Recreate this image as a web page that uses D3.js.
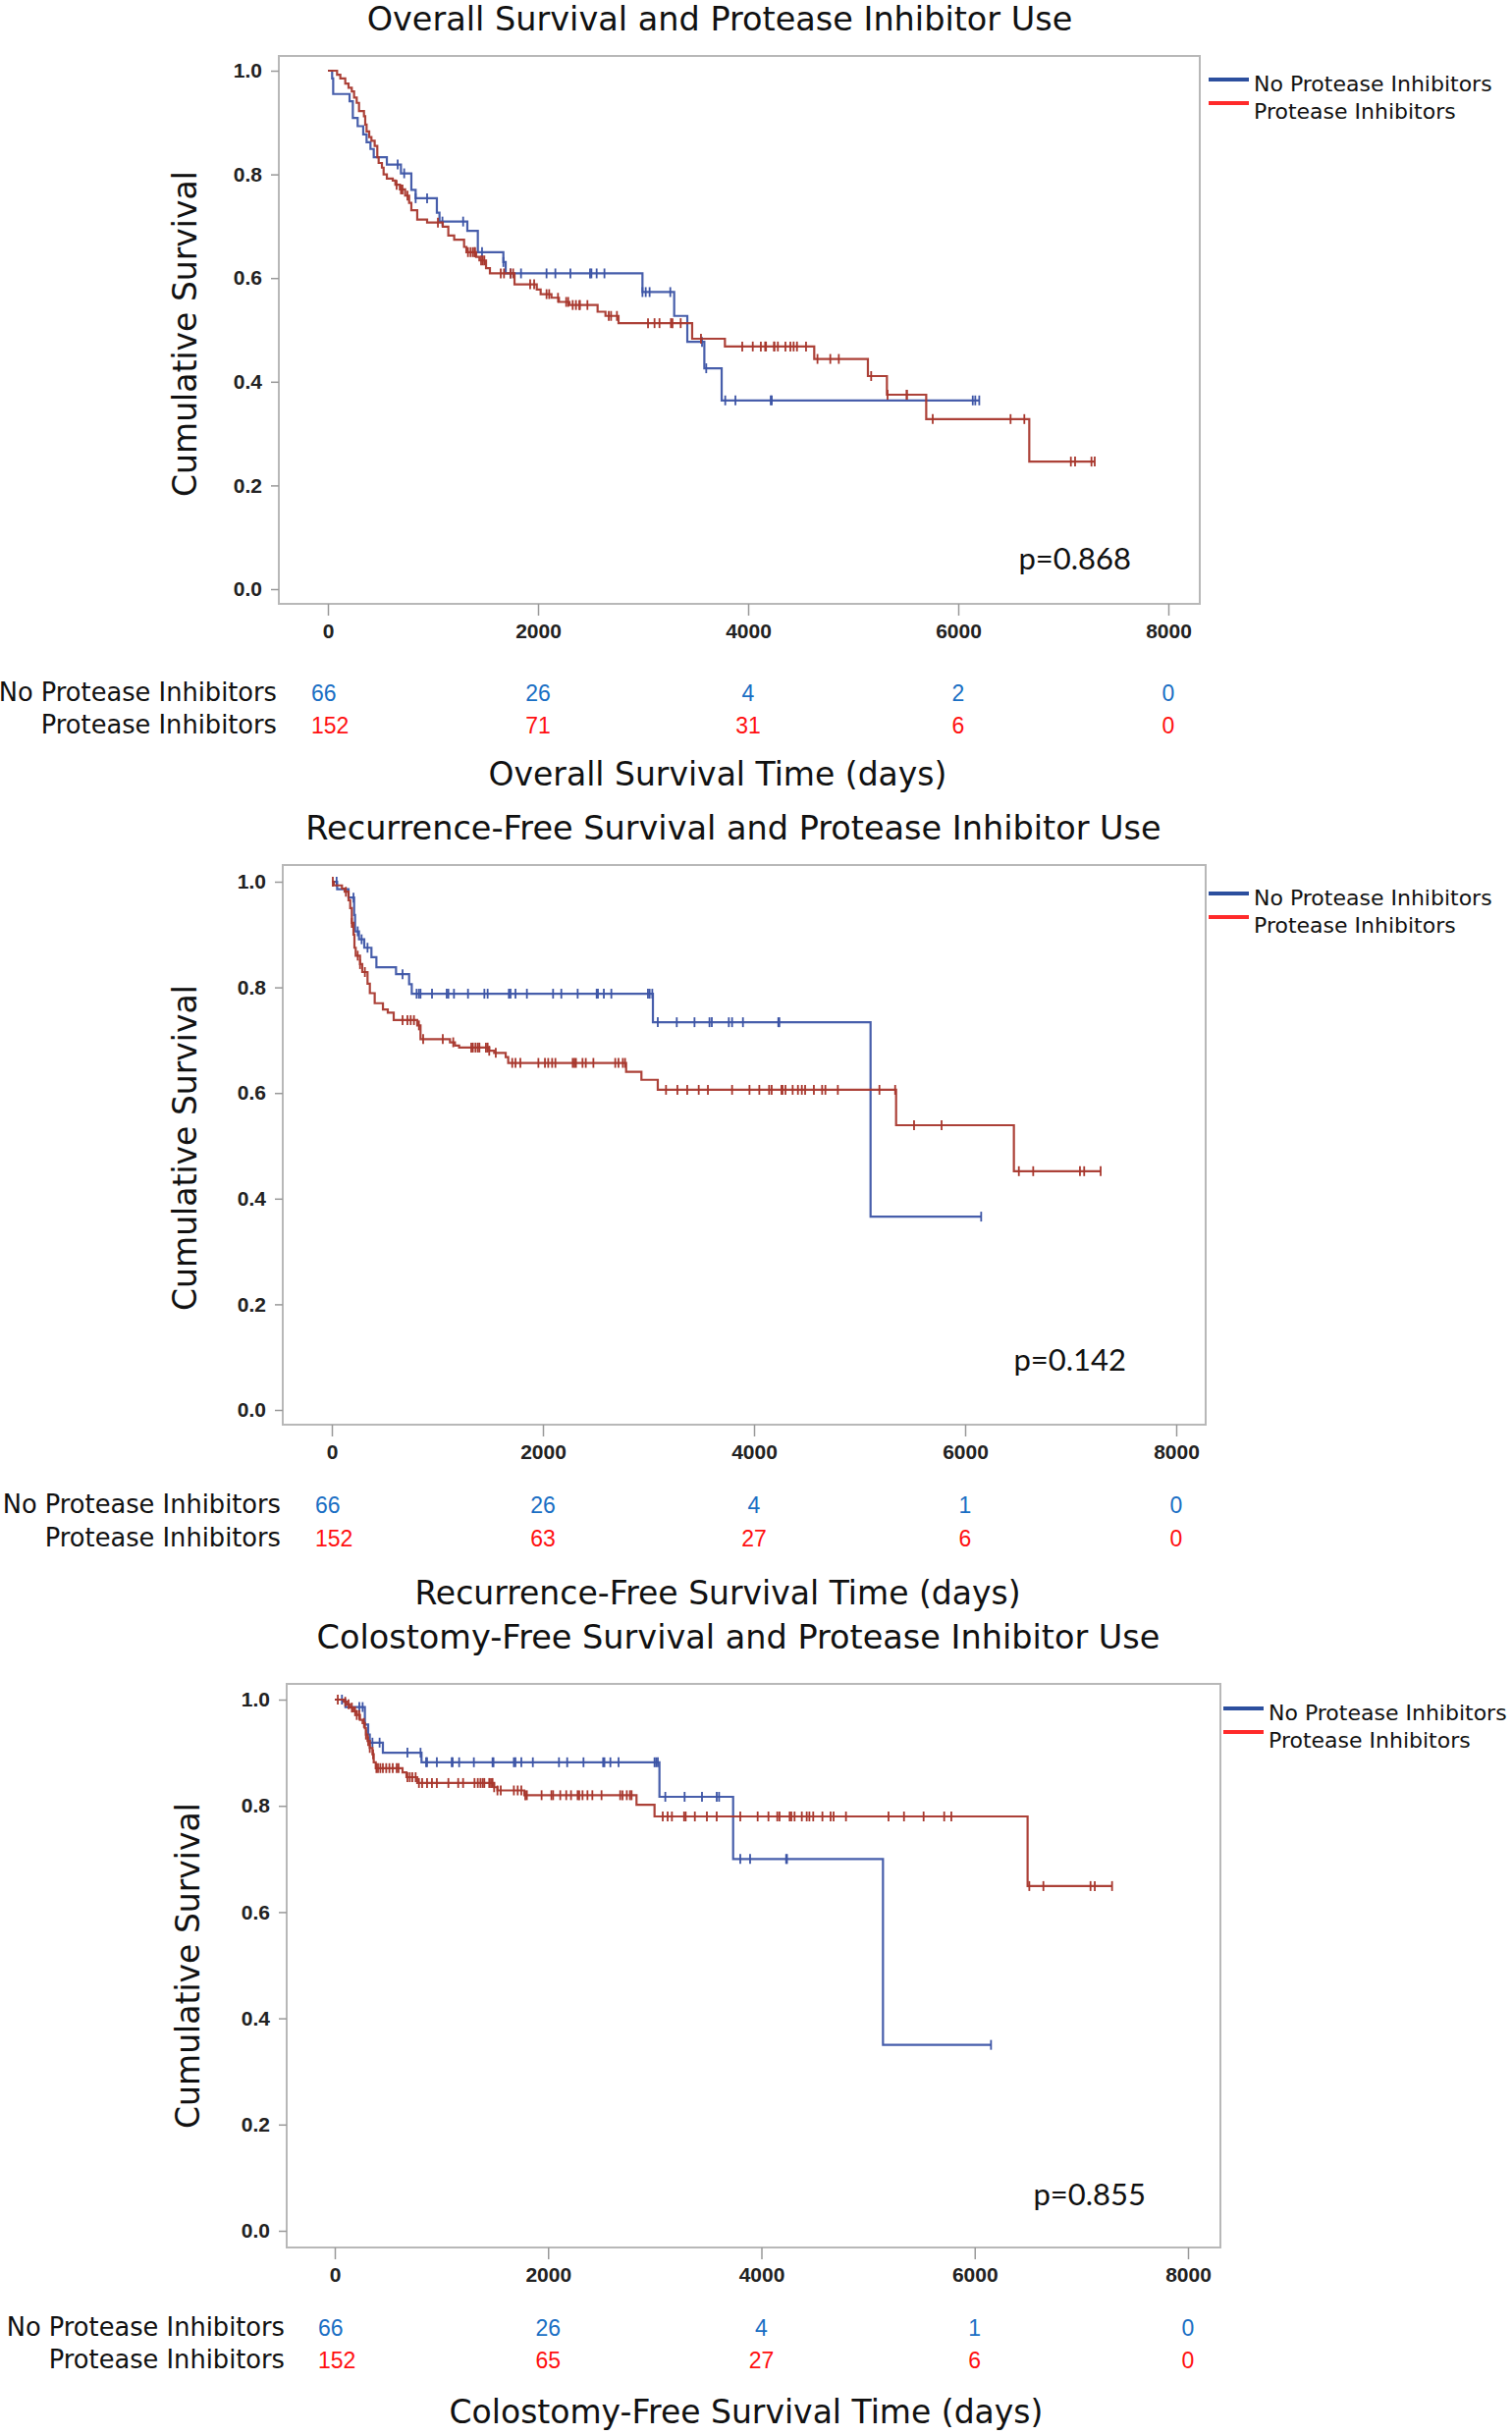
<!DOCTYPE html>
<html><head><meta charset="utf-8">
<script src="https://cdn.jsdelivr.net/npm/d3@7"></script>
<style>body{margin:0;background:#fff}</style>
</head><body>
<svg id="c" width="1540" height="2481" xmlns="http://www.w3.org/2000/svg"></svg>
<script>
// ---------- data ----------
const groups = ["No Protease Inhibitors", "Protease Inhibitors"];
const xTicks = [0, 2000, 4000, 6000, 8000];
const yTicks = [0, 0.2, 0.4, 0.6, 0.8, 1.0];
const titles = ["Overall Survival and Protease Inhibitor Use",
                "Recurrence-Free Survival and Protease Inhibitor Use",
                "Colostomy-Free Survival and Protease Inhibitor Use"];
const xTitles = ["Overall Survival Time (days)",
                 "Recurrence-Free Survival Time (days)",
                 "Colostomy-Free Survival Time (days)"];
const pValues = ["p=0.868", "p=0.142", "p=0.855"];

// Overall survival
const osNoPISteps = [[0,1],[40,0.985],[50,0.955],[206,0.941],[237,0.909],[283,0.893],[336,0.877],[368,0.862],[405,0.849],[436,0.833],[561,0.819],[695,0.802],[794,0.770],[835,0.754],[1037,0.726],[1062,0.709],[1327,0.691],[1427,0.650],[1670,0.631],[1692,0.609],[2994,0.573],[3296,0.527],[3421,0.477],[3583,0.426],[3748,0.364],[6200,0.364]];
const osNoPICensor = [664,726,835,944,1090,1287,1467,1670,1738,1838,2081,2165,2308,2495,2508,2558,2632,2994,3025,3062,3259,3561,3601,3782,3879,4215,4225,6138,6162,6200];
const osPISteps = [[0,1],[87,0.992],[118,0.985],[165,0.975],[196,0.967],[227,0.960],[249,0.948],[274,0.938],[296,0.922],[343,0.912],[355,0.896],[368,0.883],[393,0.872],[414,0.865],[445,0.855],[470,0.833],[483,0.822],[514,0.813],[530,0.800],[561,0.792],[617,0.788],[642,0.780],[685,0.771],[735,0.759],[773,0.745],[794,0.731],[850,0.713],[944,0.707],[1093,0.699],[1146,0.682],[1202,0.674],[1296,0.660],[1318,0.650],[1411,0.641],[1442,0.634],[1505,0.619],[1542,0.609],[1776,0.588],[1988,0.578],[2025,0.569],[2128,0.562],[2199,0.554],[2299,0.548],[2567,0.535],[2642,0.527],[2766,0.513],[3467,0.483],[3779,0.468],[4629,0.444],[5140,0.411],[5321,0.375],[5695,0.328],[6676,0.246],[7299,0.246]];
const osPICensor = [654,695,710,757,1047,1333,1358,1380,1396,1400,1458,1474,1489,1645,1676,1738,1763,1925,1963,2081,2106,2190,2268,2287,2330,2361,2393,2399,2470,2673,2695,2751,3047,3109,3156,3265,3280,3358,3551,3944,4044,4121,4162,4170,4246,4250,4283,4355,4402,4433,4465,4551,4660,4782,4863,5171,5327,5508,5512,5757,6498,6629,7072,7112,7268,7299];
const osRiskNoPI = [66, 26, 4, 2, 0];
const osRiskPI = [152, 71, 31, 6, 0];

// Recurrence-free survival
const rfsNoPISteps = [[0,1],[50,0.986],[158,0.970],[211,0.937],[220,0.906],[257,0.891],[307,0.875],[375,0.857],[422,0.838],[608,0.825],[732,0.806],[757,0.788],[3042,0.734],[5104,0.366],[6152,0.366]];
const rfsNoPICensor = [45,205,245,282,338,670,803,825,840,949,1088,1104,1157,1290,1445,1476,1677,1693,1740,1848,2096,2174,2329,2509,2521,2577,2648,2995,3011,3036,3088,3268,3436,3578,3600,3761,3792,3895,4230,4240,6152];
const rfsPISteps = [[0,1],[19,0.993],[96,0.987],[121,0.981],[158,0.965],[174,0.950],[189,0.922],[205,0.900],[214,0.875],[226,0.860],[267,0.844],[288,0.829],[338,0.807],[360,0.789],[406,0.770],[484,0.758],[530,0.752],[586,0.738],[809,0.728],[840,0.702],[1119,0.696],[1166,0.690],[1206,0.686],[1491,0.680],[1538,0.676],[1647,0.668],[1671,0.657],[2788,0.640],[2933,0.625],[3088,0.606],[5346,0.539],[6462,0.452],[7284,0.452]];
const rfsPICensor = [9,133,189,245,267,313,670,716,747,778,825,865,1051,1150,1321,1336,1361,1383,1398,1460,1476,1491,1553,1709,1740,1786,1957,2019,2050,2087,2118,2282,2298,2313,2375,2406,2478,2685,2716,2757,2778,3166,3274,3367,3476,3563,3792,3957,4050,4143,4167,4260,4270,4298,4366,4416,4453,4484,4567,4645,4676,4794,5188,5337,5516,5777,6509,6645,7088,7128,7284];
const rfsRiskNoPI = [66, 26, 4, 1, 0];
const rfsRiskPI = [152, 63, 27, 6, 0];

// Colostomy-free survival
const cfsNoPISteps = [[0,1],[100,0.986],[282,0.953],[313,0.934],[328,0.919],[451,0.900],[813,0.882],[3044,0.817],[3735,0.700],[5140,0.350],[6153,0.350]];
const cfsNoPICensor = [67,230,261,353,420,681,804,856,865,957,1096,1105,1166,1304,1479,1488,1679,1694,1749,1857,2102,2179,2332,2516,2528,2584,2661,2998,3013,3029,3099,3280,3443,3581,3603,3802,3894,4232,4240,6153];
const cfsPISteps = [[0,1],[83,0.996],[114,0.991],[144,0.985],[175,0.978],[206,0.971],[236,0.962],[261,0.956],[282,0.946],[292,0.934],[307,0.922],[328,0.909],[353,0.897],[365,0.882],[384,0.871],[635,0.863],[672,0.854],[773,0.843],[1494,0.835],[1525,0.829],[1777,0.820],[2829,0.802],[2998,0.780],[6496,0.649],[7288,0.649]];
const cfsPICensor = [28,98,129,160,190,206,230,273,292,313,328,359,390,405,427,451,482,512,543,580,598,681,703,727,758,789,819,865,911,957,1065,1157,1203,1310,1341,1366,1387,1402,1448,1464,1479,1494,1525,1556,1679,1715,1749,1786,1801,1939,2031,2047,2114,2170,2215,2277,2292,2323,2369,2415,2501,2676,2698,2738,2768,2783,3075,3121,3161,3275,3290,3376,3489,3581,3802,3965,4066,4149,4170,4265,4281,4311,4379,4425,4450,4486,4572,4649,4677,4793,5192,5337,5521,5714,5781,6512,6644,7086,7126,7288];
const cfsRiskNoPI = [66, 26, 4, 1, 0];
const cfsRiskPI = [152, 65, 27, 6, 0];

// ---------- layout / style ----------
const curveColors = ["#3d55a6", "#a8372d"];
const legendColors = ["#2c4f9e", "#ff2a2a"];
const riskColors = ["#1a6fc4", "#ff1010"];
const LABEL_FONT = "'DejaVu Sans', sans-serif";
const P_FONT = "Lato, 'DejaVu Sans', sans-serif";
const TICK_FONT = "'Liberation Sans', Arial, sans-serif";

const layouts = [
  {L:284,R:1222,T:57,B:615,x0:334,x8:1190,y0:600,y1:72,
   titleX:733,titleY:31,ytX:200,ytY:340,legY:81,legX:1231,pX:1152,pY:580,
   riskY1:714,riskY2:747,xtY:800,xtX:731},
  {L:288,R:1228,T:881,B:1451,x0:338,x8:1198,y0:1436,y1:898,
   titleX:747,titleY:855,ytX:200,ytY:1169,legY:910,legX:1231,pX:1147,pY:1396,
   riskY1:1541,riskY2:1575,xtY:1634,xtX:731},
  {L:292,R:1243,T:1715,B:2289,x0:341,x8:1210,y0:2272,y1:1731,
   titleX:752,titleY:1679,ytX:203,ytY:2002,legY:1740,legX:1246,pX:1167,pY:2246,
   riskY1:2379,riskY2:2412,xtY:2468,xtX:760}
];

const datasets = [
  {steps:[osNoPISteps, osPISteps], censor:[osNoPICensor, osPICensor], risk:[osRiskNoPI, osRiskPI]},
  {steps:[rfsNoPISteps, rfsPISteps], censor:[rfsNoPICensor, rfsPICensor], risk:[rfsRiskNoPI, rfsRiskPI]},
  {steps:[cfsNoPISteps, cfsPISteps], censor:[cfsNoPICensor, cfsPICensor], risk:[cfsRiskNoPI, cfsRiskPI]}
];

const svg = d3.select("#c");
svg.append("rect").attr("width",1540).attr("height",2481).attr("fill","#fff");

function drawChart(i) {
  const c = layouts[i], d = datasets[i];
  const g = svg.append("g");
  const x = d3.scaleLinear().domain([0, 8000]).range([c.x0, c.x8]);
  const y = d3.scaleLinear().domain([0, 1]).range([c.y0, c.y1]);

  // title
  g.append("text").attr("x", c.titleX).attr("y", c.titleY).attr("text-anchor","middle")
    .style("font-family", LABEL_FONT).style("font-size","33.5px").attr("fill","#111").text(titles[i]);

  // frame
  g.append("rect").attr("x", c.L).attr("y", c.T).attr("width", c.R - c.L).attr("height", c.B - c.T)
    .attr("fill","none").attr("stroke","#b8b8b8").attr("stroke-width",2);

  // y axis
  const ya = g.append("g").attr("transform", `translate(${c.L},0)`)
    .call(d3.axisLeft(y).tickValues(yTicks).tickFormat(d3.format(".1f")).tickSize(8).tickPadding(9));
  ya.select(".domain").remove();
  ya.selectAll(".tick line").attr("stroke","#999").attr("stroke-width",1.5);
  ya.selectAll("text").style("font-family", TICK_FONT).style("font-size","21px")
    .style("font-weight","bold").attr("fill","#222");

  // x axis
  const xa = g.append("g").attr("transform", `translate(0,${c.B})`)
    .call(d3.axisBottom(x).tickValues(xTicks).tickFormat(d3.format("d")).tickSize(12).tickPadding(8));
  xa.select(".domain").remove();
  xa.selectAll(".tick line").attr("stroke","#999").attr("stroke-width",1.5);
  xa.selectAll("text").style("font-family", TICK_FONT).style("font-size","21px")
    .style("font-weight","bold").attr("fill","#222");

  // y title
  g.append("text").attr("transform", `translate(${c.ytX},${c.ytY}) rotate(-90)`)
    .attr("text-anchor","middle").style("font-family", LABEL_FONT).style("font-size","33px")
    .attr("fill","#111").text("Cumulative Survival");

  // curves
  const line = d3.line().x(p => x(p[0])).y(p => y(p[1])).curve(d3.curveStepAfter);
  [0,1].forEach(k => {
    const steps = d.steps[k];
    g.append("path").attr("d", line(steps)).attr("fill","none")
      .attr("stroke", curveColors[k]).attr("stroke-width", 2.2).attr("stroke-opacity",0.95);
    const times = steps.map(p => p[0]);
    const level = t => steps[Math.max(0, d3.bisectRight(times, t) - 1)][1];
    g.append("g").selectAll("line").data(d.censor[k]).join("line")
      .attr("x1", t => x(t)).attr("x2", t => x(t))
      .attr("y1", t => y(level(t)) - 5).attr("y2", t => y(level(t)) + 5)
      .attr("stroke", curveColors[k]).attr("stroke-width", 1.8);
  });

  // p-value
  g.append("text").attr("x", c.pX).attr("y", c.pY).attr("text-anchor","end")
    .style("font-family", P_FONT).style("font-size","31px").attr("fill","#111").text(pValues[i]);

  // legend
  groups.forEach((name, k) => {
    const ly = c.legY + k * 24;
    g.append("line").attr("x1", c.legX).attr("x2", c.legX + 41).attr("y1", ly).attr("y2", ly)
      .attr("stroke", legendColors[k]).attr("stroke-width", 4);
    g.append("text").attr("x", c.legX + 46).attr("y", c.legY + 12 + k * 28)
      .style("font-family", LABEL_FONT).style("font-size","22px").attr("fill","#111").text(name);
  });

  // risk table
  [c.riskY1, c.riskY2].forEach((ry, k) => {
    g.append("text").attr("x", c.L - 2).attr("y", ry).attr("text-anchor","end")
      .style("font-family", LABEL_FONT).style("font-size","25.7px").attr("fill","#111").text(groups[k]);
    g.append("g").selectAll("text").data(d.risk[k]).join("text")
      .attr("x", (v, j) => j === 0 ? x(xTicks[j]) - 17 : x(xTicks[j]))
      .attr("y", ry)
      .attr("text-anchor", (v, j) => j === 0 ? "start" : "middle")
      .style("font-family", TICK_FONT).style("font-size","23px").attr("fill", riskColors[k])
      .text(v => v);
  });

  // x title
  g.append("text").attr("x", c.xtX).attr("y", c.xtY).attr("text-anchor","middle")
    .style("font-family", LABEL_FONT).style("font-size","33px").attr("fill","#111").text(xTitles[i]);
}

[0,1,2].forEach(drawChart);
</script>
</body></html>
